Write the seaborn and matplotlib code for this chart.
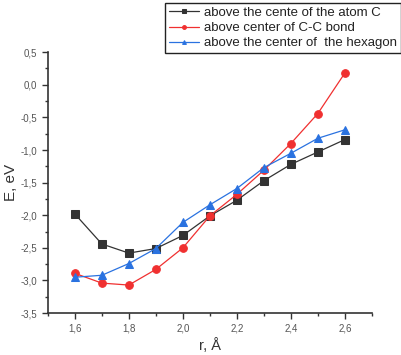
import matplotlib
matplotlib.use("Agg")
import matplotlib.pyplot as plt
import seaborn as sns
import pandas as pd
from matplotlib.ticker import FixedLocator, FuncFormatter, MultipleLocator

sns.set_theme(style="ticks")
plt.rcParams['font.family'] = ['Liberation Sans', 'DejaVu Sans']

r = [1.6, 1.7, 1.8, 1.9, 2.0, 2.1, 2.2, 2.3, 2.4, 2.5, 2.6]
atom_c = [-1.98, -2.44, -2.58, -2.51, -2.31, -2.01, -1.77, -1.47, -1.22, -1.03, -0.84]
cc_bond = [-2.89, -3.04, -3.07, -2.83, -2.50, -2.01, -1.68, -1.31, -0.90, -0.44, 0.18]
hexagon = [-2.95, -2.92, -2.74, -2.51, -2.11, -1.84, -1.59, -1.27, -1.05, -0.82, -0.69]
labels = ["above the cente of the atom C", "above center of C-C bond",
          "above the center of  the hexagon"]
xticks = [1.6, 1.8, 2.0, 2.2, 2.4, 2.6]
yticks = [0.5, 0.0, -0.5, -1.0, -1.5, -2.0, -2.5, -3.0, -3.5]

colors = ["#333333", "#f03030", "#2a72e0"]
markers = ["s", "o", "^"]

fig = plt.figure(figsize=(4.02, 3.55), dpi=100)
ax = fig.add_axes([0.119, 0.118, 0.806, 0.735])

for ys, lab, c, m in zip([atom_c, cc_bond, hexagon], labels, colors, markers):
    df = pd.DataFrame({"r": r, "E": ys})
    sns.lineplot(data=df, x="r", y="E", ax=ax, color=c, marker=m, markersize=5.5,
                 markeredgecolor=c, linewidth=0.9, label=lab)

ax.set_xlim(1.5, 2.7)
ax.set_ylim(-3.5, 0.5)
fmt = FuncFormatter(lambda v, p: f"{v:.1f}".replace(".", ",").replace("-0,0", "0,0"))
ax.xaxis.set_major_locator(FixedLocator(xticks))
ax.yaxis.set_major_locator(FixedLocator(yticks))
ax.xaxis.set_major_formatter(fmt)
ax.yaxis.set_major_formatter(fmt)
ax.xaxis.set_minor_locator(MultipleLocator(0.1))
ax.yaxis.set_minor_locator(MultipleLocator(0.25))
ax.tick_params(axis="both", which="major", direction="out", length=4, width=1,
               labelsize=7, color="#333333", labelcolor="#555555")
ax.tick_params(axis="both", which="minor", direction="out", length=2.5, width=1,
               color="#333333")
for s in ["top", "right"]:
    ax.spines[s].set_visible(False)
for s in ["left", "bottom"]:
    ax.spines[s].set_color("#333333")
    ax.spines[s].set_linewidth(1.2)

ax.set_xlabel("r, Å", fontsize=10.5, color="#333333", labelpad=3)
ax.set_ylabel("E, eV", fontsize=11, color="#333333", labelpad=2)

leg = ax.legend(loc="upper right", bbox_to_anchor=(0.997, 0.992),
                bbox_transform=fig.transFigure, fontsize=9.5, frameon=True,
                fancybox=False, edgecolor="#222222", framealpha=1,
                handlelength=2.3, handletextpad=0.35, borderpad=0.3,
                labelspacing=0.22, borderaxespad=0, markerscale=0.5)
leg.get_frame().set_linewidth(1.0)
for t in leg.get_texts():
    t.set_color("#222222")

fig.savefig("out.png", dpi=100)
